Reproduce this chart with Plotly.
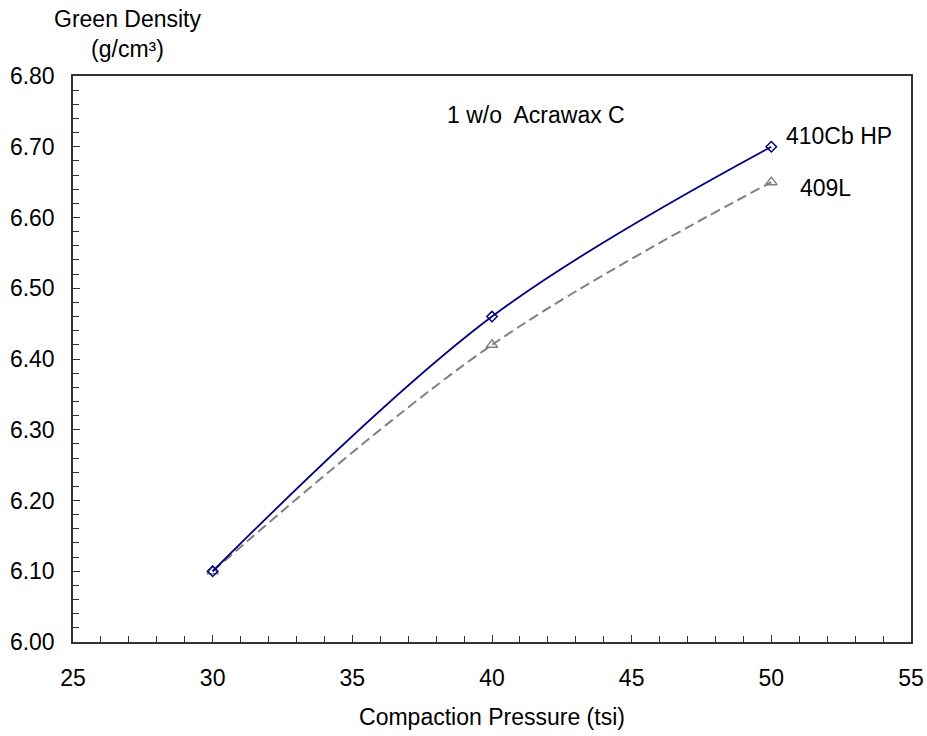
import plotly.graph_objects as go

pressure = [30, 40, 50]
density_410 = [6.10, 6.46, 6.70]
density_409 = [6.10, 6.42, 6.65]
x_ticks = [25, 30, 35, 40, 45, 50, 55]
y_ticks = [6.00, 6.10, 6.20, 6.30, 6.40, 6.50, 6.60, 6.70, 6.80]

FONT = "Liberation Sans, Arial, sans-serif"
FS = 23
L, R, T, B = 73, 16, 76, 94
W, H = 927, 736
plot_w = W - L - R
plot_h = H - T - B

def px_to_paper_y(py):
    return (H - B - py) / plot_h

def px_to_paper_x(px):
    return (px - L) / plot_w

fig = go.Figure()
fig.add_trace(go.Scatter(
    x=pressure, y=density_409, mode="lines+markers", name="409L",
    line=dict(color="#808080", width=2, dash="10px,5px", shape="spline", smoothing=1.0),
    marker=dict(symbol="triangle-up-open", size=10, color="#808080", line=dict(width=1.5)),
))
fig.add_trace(go.Scatter(
    x=pressure, y=density_410, mode="lines+markers", name="410Cb HP",
    line=dict(color="#000080", width=1.8, shape="spline", smoothing=1.0),
    marker=dict(symbol="diamond-open", size=8, color="#000080", line=dict(width=1.5)),
))

fig.update_layout(
    width=W, height=H,
    margin=dict(l=L, r=R, t=T, b=B),
    paper_bgcolor="white", plot_bgcolor="white",
    showlegend=False,
    font=dict(family=FONT, size=FS, color="black"),
    xaxis=dict(
        range=[25, 55], tickvals=x_ticks, ticktext=[str(v) for v in x_ticks],
        ticks="inside", ticklen=7, tickcolor="#333", showgrid=False, zeroline=False,
        showline=True, linecolor="#333", linewidth=1.5, mirror=True, automargin=False,
        minor=dict(ticks="inside", dtick=1, ticklen=6, tickcolor="#333", showgrid=False),
        title=dict(text="Compaction Pressure (tsi)", font=dict(size=FS), standoff=19),
        ticklabelstandoff=15,
    ),
    yaxis=dict(
        range=[6.0, 6.8], tickvals=y_ticks, ticktext=[f"{v:.2f}" for v in y_ticks],
        ticks="inside", ticklen=7, tickcolor="#333", showgrid=False, zeroline=False,
        showline=True, linecolor="#333", linewidth=1.5, mirror=True, automargin=False,
        minor=dict(ticks="inside", dtick=0.02, ticklen=6, tickcolor="#333", showgrid=False),
        ticklabelstandoff=12,
    ),
    annotations=[
        dict(text="Green Density<br>(g/cm³)", x=px_to_paper_x(128), y=px_to_paper_y(34),
             xref="paper", yref="paper", xanchor="center", yanchor="middle",
             showarrow=False, font=dict(size=FS)),
        dict(text="1 w/o  Acrawax C", x=41.56, y=6.745, xref="x", yref="y",
             xanchor="center", showarrow=False, font=dict(size=FS)),
        dict(text="410Cb HP", x=50.46, y=6.715, xref="x", yref="y", xanchor="left",
             showarrow=False, font=dict(size=FS)),
        dict(text="409L", x=50.96, y=6.642, xref="x", yref="y", xanchor="left",
             showarrow=False, font=dict(size=FS)),
    ],
)

fig.write_html("out.html")
